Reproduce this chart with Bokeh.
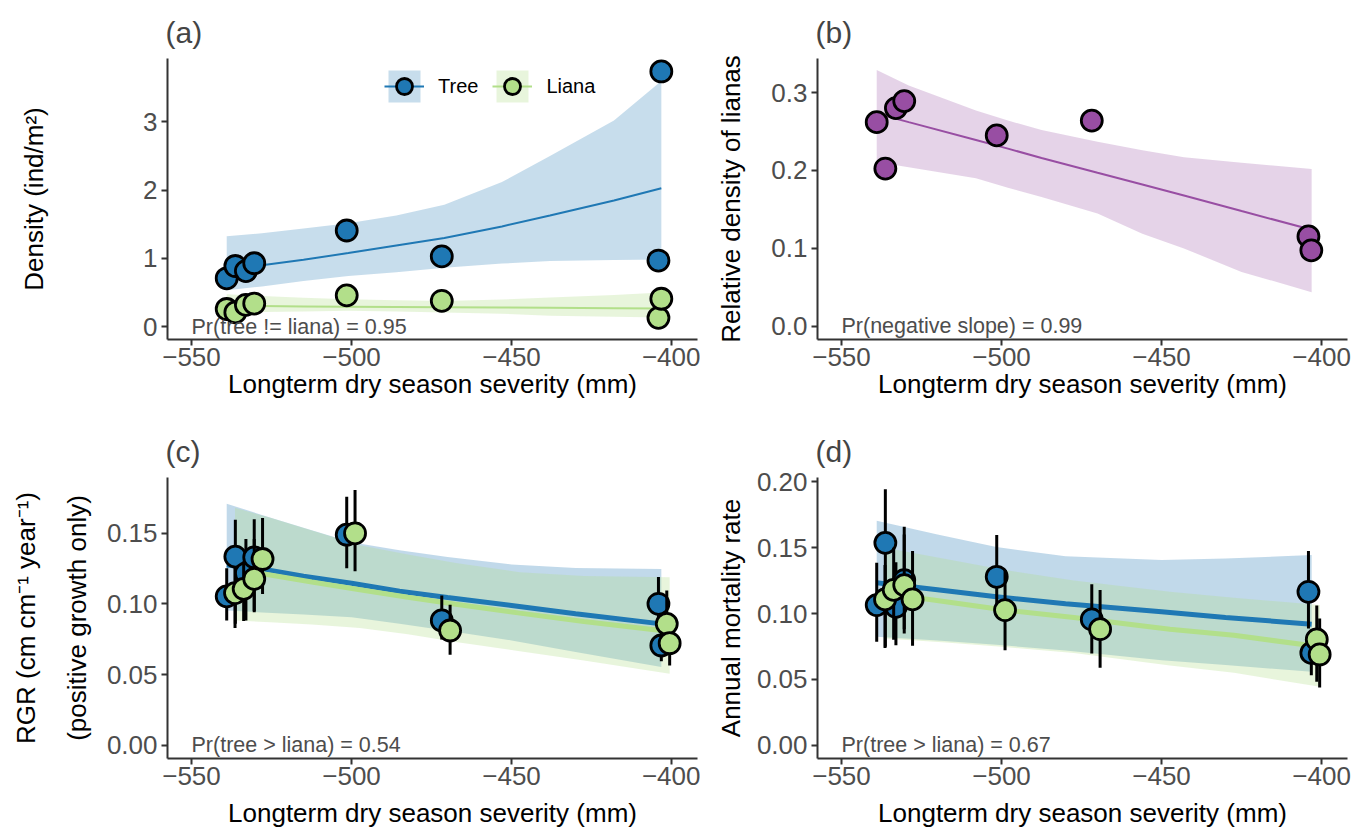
from bokeh.plotting import figure
from bokeh.models import Range1d, FixedTicker, NumeralTickFormatter, Label, Legend, LegendItem
from bokeh.layouts import row, column
from bokeh.embed import file_html
from bokeh.resources import INLINE

FONT = "Liberation Sans"
TREE = "#1f78b4"
LIANA = "#b2df8a"
PURPLE = "#984ea3"

# ---------------- data ----------------
site_x = [-539.0, -536.3, -533.0, -530.4, -501.5, -471.8, -404.1, -403.2]
liana_dodge = 2.6

x_ticks = [-550, -500, -450, -400]
x_tick_labels = ["\u2212550", "\u2212500", "\u2212450", "\u2212400"]

# (a) density
tree_density = [0.71, 0.89, 0.815, 0.93, 1.41, 1.03, 0.97, 3.74]
liana_density = [0.26, 0.21, 0.32, 0.34, 0.46, 0.38, 0.13, 0.41]
fit_x_a = [-539.0, -528.0, -515.0, -501.0, -486.0, -471.0, -453.0, -438.0, -418.0, -403.2]
tree_fit_a = [0.84, 0.90, 0.98, 1.08, 1.19, 1.30, 1.47, 1.63, 1.85, 2.03]
tree_lo_a = [0.534, 0.59, 0.67, 0.742, 0.80, 0.863, 0.925, 0.962, 0.978, 0.985]
tree_hi_a = [1.325, 1.37, 1.44, 1.518, 1.63, 1.786, 2.12, 2.50, 3.02, 3.60]
liana_fit_a = [0.305, 0.302, 0.298, 0.294, 0.290, 0.286, 0.281, 0.277, 0.272, 0.267]
liana_lo_a = [0.208, 0.215, 0.225, 0.233, 0.222, 0.208, 0.19, 0.16, 0.148, 0.136]
liana_hi_a = [0.476, 0.45, 0.425, 0.403, 0.388, 0.378, 0.40, 0.427, 0.465, 0.50]
y_ticks_a = [0, 1, 2, 3]

# (b) relative density of lianas
rel_liana = [0.262, 0.2025, 0.280, 0.289, 0.245, 0.264, 0.1155, 0.0976]
fit_x_b = [-539.0, -529.0, -508.0, -498.0, -487.5, -470.0, -456.0, -443.0, -425.0, -403.1]
rel_fit_b = [0.273, 0.262, 0.239, 0.228, 0.216, 0.197, 0.182, 0.168, 0.148, 0.124]
rel_lo_b = [0.211, 0.204, 0.190, 0.178, 0.166, 0.145, 0.119, 0.100, 0.070, 0.044]
rel_hi_b = [0.329, 0.309, 0.277, 0.264, 0.252, 0.237, 0.226, 0.217, 0.210, 0.202]
y_ticks_b = [0.0, 0.1, 0.2, 0.3]

# (c) RGR
tree_rgr = [0.1054, 0.1335, 0.1217, 0.133, 0.149, 0.0883, 0.1001, 0.0706]
tree_rgr_lo = [0.0883, 0.0859, 0.0883, 0.0941, 0.1252, 0.0748, 0.0836, 0.0594]
tree_rgr_hi = [0.1252, 0.1596, 0.146, 0.160, 0.1758, 0.106, 0.119, 0.0836]
liana_rgr = [0.1077, 0.1107, 0.1177, 0.1318, 0.150, 0.0812, 0.0859, 0.0722]
liana_rgr_lo = [0.083, 0.088, 0.095, 0.1071, 0.1231, 0.064, 0.0648, 0.0565]
liana_rgr_hi = [0.126, 0.130, 0.146, 0.1608, 0.1806, 0.0995, 0.1095, 0.085]
fit_x_c = [-539.0, -528.0, -515.0, -500.0, -485.0, -470.0, -450.0, -430.0, -403.2]
tree_fit_c = [0.1275, 0.1248, 0.1196, 0.1146, 0.109, 0.1045, 0.0989, 0.093, 0.0859]
tree_lo_c = [0.0953, 0.094, 0.0925, 0.0906, 0.086, 0.081, 0.0742, 0.066, 0.0553]
tree_hi_c = [0.171, 0.163, 0.154, 0.1436, 0.138, 0.1333, 0.128, 0.1255, 0.1248]
liana_fit_c = [0.1245, 0.1205, 0.1155, 0.110, 0.1048, 0.0998, 0.0935, 0.0875, 0.0805]
liana_lo_c = [0.0883, 0.087, 0.0855, 0.083, 0.0785, 0.073, 0.0665, 0.060, 0.0506]
liana_hi_c = [0.168, 0.161, 0.152, 0.1415, 0.135, 0.129, 0.1225, 0.1198, 0.1189]
y_ticks_c = [0.0, 0.05, 0.10, 0.15]

# (d) mortality
tree_mort = [0.1064, 0.1537, 0.1051, 0.1254, 0.1279, 0.0955, 0.1165, 0.0701]
tree_mort_lo = [0.0785, 0.0747, 0.076, 0.0849, 0.101, 0.0697, 0.0887, 0.0532]
tree_mort_hi = [0.1385, 0.1943, 0.139, 0.1659, 0.1596, 0.1223, 0.1474, 0.0878]
liana_mort = [0.1107, 0.118, 0.1216, 0.1107, 0.1026, 0.0881, 0.0803, 0.0689]
liana_mort_lo = [0.0739, 0.080, 0.088, 0.0755, 0.0722, 0.0588, 0.0481, 0.0438]
liana_mort_hi = [0.1368, 0.150, 0.160, 0.1474, 0.133, 0.1178, 0.106, 0.0963]
fit_x_d = [-539.0, -520.0, -501.6, -480.0, -450.0, -430.0, -403.1]
tree_fit_d = [0.1233, 0.118, 0.1127, 0.1075, 0.1013, 0.097, 0.0919]
tree_lo_d = [0.0823, 0.0795, 0.0762, 0.072, 0.0646, 0.061, 0.0557]
tree_hi_d = [0.1705, 0.160, 0.1505, 0.1435, 0.1406, 0.1417, 0.1444]
liana_fit_d = [0.1153, 0.109, 0.1026, 0.097, 0.088, 0.0835, 0.0747]
liana_lo_d = [0.0811, 0.078, 0.0745, 0.070, 0.0605, 0.055, 0.0443]
liana_hi_d = [0.150, 0.1415, 0.133, 0.125, 0.1165, 0.112, 0.1064]
y_ticks_d = [0.0, 0.05, 0.10, 0.15, 0.20]

X_RANGE = (-557.5, -391.9)


def dodge(xs):
    return [x + liana_dodge for x in xs]


def make_fig(tag, ylabel, yr, yticks, yfmt, left, right, top, bottom,
             ylabel_standoff, xlabel_standoff, note):
    p = figure(frame_width=530, frame_height=281,
               x_range=Range1d(*X_RANGE), y_range=Range1d(*yr),
               output_backend="svg", toolbar_location=None,
               min_border_left=left, min_border_right=right,
               min_border_top=top, min_border_bottom=bottom,
               background_fill_color="white", border_fill_color="white")
    p.outline_line_color = None
    p.xgrid.visible = False
    p.ygrid.visible = False
    p.title.text = tag
    p.title.text_font = FONT
    p.title.text_font_size = "30px"
    p.title.text_font_style = "normal"
    p.title.align = "left"
    p.title.offset = -2
    p.title.standoff = 19
    for ax in (p.xaxis[0], p.yaxis[0]):
        ax.axis_line_width = 2
        ax.axis_line_color = "#333333"
        ax.major_tick_line_width = 2
        ax.major_tick_line_color = "#333333"
        ax.major_tick_out = 6
        ax.major_tick_in = 0
        ax.minor_tick_line_color = None
        ax.major_label_text_font = FONT
        ax.major_label_text_font_size = "26px"
        ax.major_label_text_color = "#4d4d4d"
        ax.axis_label_text_font = FONT
        ax.axis_label_text_font_size = "26px"
        ax.axis_label_text_font_style = "normal"
        ax.axis_label_text_color = "black"
    p.xaxis.ticker = FixedTicker(ticks=x_ticks)
    p.xaxis.major_label_overrides = dict(zip(x_ticks, x_tick_labels))
    p.xaxis.axis_label = "Longterm dry season severity (mm)"
    p.xaxis.major_label_standoff = 2
    p.xaxis.axis_label_standoff = xlabel_standoff
    p.yaxis.ticker = FixedTicker(ticks=yticks)
    p.yaxis.formatter = NumeralTickFormatter(format=yfmt)
    p.yaxis.axis_label = ylabel
    p.yaxis.major_label_standoff = 4
    p.yaxis.axis_label_standoff = ylabel_standoff
    p.yaxis.axis_label_text_line_height = 1.7
    p.add_layout(Label(x=-550, y=0, text=note, text_font=FONT,
                       text_font_size="21.5px", text_color="#4d4d4d",
                       text_align="left", text_baseline="middle"))
    return p


def points(p, xs, ys, color):
    return p.scatter(xs, ys, marker="circle", size=21, fill_color=color,
                     line_color="black", line_width=2.8)


def errbars(p, xs, lo, hi):
    p.segment(x0=xs, y0=lo, x1=xs, y1=hi, line_color="black", line_width=3)


# ---------------- (a) ----------------
pa = make_fig("(a)", "Density (ind/m\u00b2)", (-0.187, 3.93), y_ticks_a, "0",
              167, 3, 58, 81, 91, 0, "Pr(tree != liana) = 0.95")
ba_t = pa.varea(x=fit_x_a, y1=tree_lo_a, y2=tree_hi_a, fill_color=TREE, fill_alpha=0.25)
ba_l = pa.varea(x=fit_x_a, y1=liana_lo_a, y2=liana_hi_a, fill_color=LIANA, fill_alpha=0.3)
la_t = pa.line(fit_x_a, tree_fit_a, line_color=TREE, line_width=2)
la_l = pa.line(fit_x_a, liana_fit_a, line_color=LIANA, line_width=2)
sa_t = points(pa, site_x, tree_density, TREE)
sa_l = points(pa, site_x, liana_density, LIANA)
legend = Legend(items=[LegendItem(label="Tree", renderers=[ba_t, la_t, sa_t]),
                       LegendItem(label="Liana", renderers=[ba_l, la_l, sa_l])],
                orientation="horizontal", location=(217, 233),
                glyph_width=40, glyph_height=40, label_standoff=14, spacing=14,
                padding=0, margin=0, border_line_alpha=0, background_fill_alpha=0,
                label_text_font=FONT, label_text_font_size="20px",
                label_text_color="black")
pa.add_layout(legend)

# ---------------- (b) ----------------
pb = make_fig("(b)", "Relative density of lianas", (-0.0167, 0.3436), y_ticks_b, "0.0",
              117, 13, 58, 81, 22, 0, "Pr(negative slope) = 0.99")
pb.varea(x=fit_x_b, y1=rel_lo_b, y2=rel_hi_b, fill_color=PURPLE, fill_alpha=0.25)
pb.line(fit_x_b, rel_fit_b, line_color=PURPLE, line_width=2)
points(pb, site_x, rel_liana, PURPLE)

# ---------------- (c) ----------------
pc = make_fig("(c)", "RGR (cm cm\u207b\u00b9 year\u207b\u00b9)\n(positive growth only)",
              (-0.0094, 0.1895), y_ticks_c, "0.00",
              167, 3, 57, 76, 12, 10, "Pr(tree > liana) = 0.54")
pc.varea(x=fit_x_c, y1=tree_lo_c, y2=tree_hi_c, fill_color=TREE, fill_alpha=0.28)
pc.varea(x=dodge(fit_x_c), y1=liana_lo_c, y2=liana_hi_c, fill_color=LIANA, fill_alpha=0.3)
pc.line(fit_x_c, tree_fit_c, line_color=TREE, line_width=5)
pc.line(dodge(fit_x_c), liana_fit_c, line_color=LIANA, line_width=5)
errbars(pc, site_x, tree_rgr_lo, tree_rgr_hi)
points(pc, site_x, tree_rgr, TREE)
errbars(pc, dodge(site_x), liana_rgr_lo, liana_rgr_hi)
points(pc, dodge(site_x), liana_rgr, LIANA)

# ---------------- (d) ----------------
pd = make_fig("(d)", "Annual mortality rate", (-0.0101, 0.2033), y_ticks_d, "0.00",
              117, 13, 57, 76, 8, 10, "Pr(tree > liana) = 0.67")
pd.varea(x=fit_x_d, y1=tree_lo_d, y2=tree_hi_d, fill_color=TREE, fill_alpha=0.28)
pd.varea(x=dodge(fit_x_d), y1=liana_lo_d, y2=liana_hi_d, fill_color=LIANA, fill_alpha=0.3)
pd.line(fit_x_d, tree_fit_d, line_color=TREE, line_width=5)
pd.line(dodge(fit_x_d), liana_fit_d, line_color=LIANA, line_width=5)
errbars(pd, site_x, tree_mort_lo, tree_mort_hi)
points(pd, site_x, tree_mort, TREE)
errbars(pd, dodge(site_x), liana_mort_lo, liana_mort_hi)
points(pd, dodge(site_x), liana_mort, LIANA)

layout = column(row(pa, pb), row(pc, pd))
open("out.html", "w").write(file_html(layout, INLINE))
